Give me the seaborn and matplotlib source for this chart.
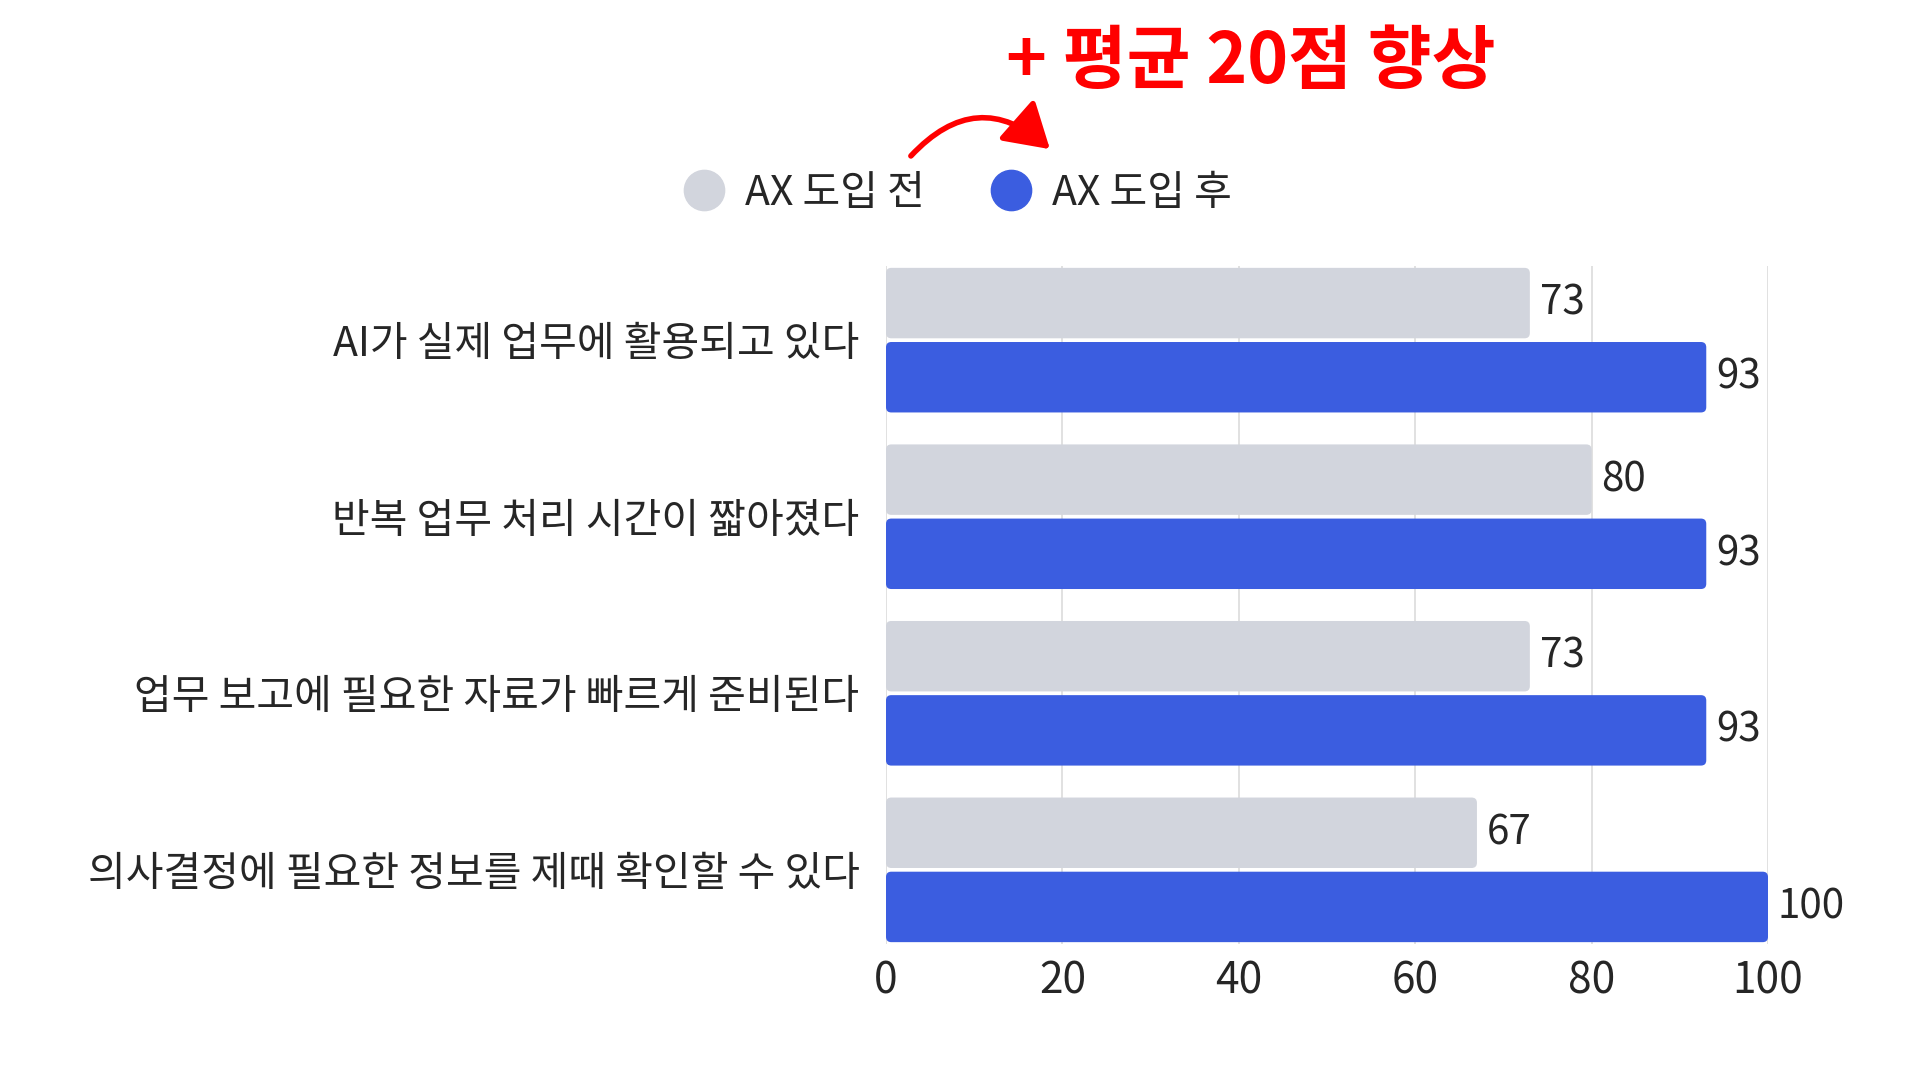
import numpy as np
import pandas as pd
import matplotlib.pyplot as plt
import seaborn as sns
from matplotlib.lines import Line2D
from matplotlib.patches import FancyBboxPatch, FancyArrowPatch

# survey items and scores (before / after AX)
statements = [
    "AI가 실제 업무에 활용되고 있다",
    "반복 업무 처리 시간이 짧아졌다",
    "업무 보고에 필요한 자료가 빠르게 준비된다",
    "의사결정에 필요한 정보를 제때 확인할 수 있다",
]
before = [73, 80, 73, 67]
after = [93, 93, 93, 100]
series = ["AX 도입 전", "AX 도입 후"]
colors = ["#D2D5DD", "#3B5DE0"]
x_ticks = [0, 20, 40, 60, 80, 100]
headline = "+ 평균 20점 향상"

df = pd.DataFrame({
    "문항": statements * 2,
    "점수": before + after,
    "구분": [series[0]] * len(before) + [series[1]] * len(after),
})

sns.set_theme(style="white")
plt.rcParams["font.family"] = ["Noto Sans CJK KR", "DejaVu Sans"]

W, H = 1920, 1080
fig = plt.figure(figsize=(19.2, 10.8), dpi=100)
ax = fig.add_axes([886 / W, 1 - 944 / H, (1768 - 886) / W, (944 - 266) / H])

sns.barplot(data=df, y="문항", x="점수", hue="구분", hue_order=series,
            palette=colors, orient="h", width=0.84, gap=0.05,
            saturation=1, legend=False, ax=ax)

ax.set_xlim(0, 100)
ax.set_ylim(3.42, -0.42)
ax.set_xticks(x_ticks)
ax.grid(axis="x", color="#DCDCDC", lw=1.2)
ax.grid(axis="y", visible=False)
ax.set_axisbelow(True)
for s in ax.spines.values():
    s.set_visible(False)
ax.tick_params(axis="x", labelsize=30.5, length=0, pad=11)
ax.tick_params(axis="y", labelsize=29.5, length=0, pad=19)
ax.set_xlabel("")
ax.set_ylabel("")

for c in ax.containers:
    ax.bar_label(c, padding=7, fontsize=29)

# swap plain rectangles for slightly rounded ones
for p in list(ax.patches):
    fb = FancyBboxPatch((p.get_x(), p.get_y()), p.get_width(), p.get_height(),
                        boxstyle="round,pad=0,rounding_size=0.6",
                        mutation_aspect=0.05, fc=p.get_facecolor(),
                        ec="none", zorder=p.get_zorder())
    p.remove()
    ax.add_patch(fb)

handles = [Line2D([], [], marker="o", ls="", markersize=29,
                  markerfacecolor=c, markeredgecolor=c) for c in colors]
fig.legend(handles, series, loc="center", bbox_to_anchor=(0.4987, 0.821),
           ncol=2, frameon=False, fontsize=29.5, handlelength=1.0,
           handletextpad=0.5, columnspacing=1.6)

fig.text(1251 / W, 1 - 63 / H, headline, color="#FF0000", fontsize=50,
         fontweight="black", ha="center", va="center")

arrow = FancyArrowPatch(posA=(909 / W, 1 - 158 / H), posB=(1052 / W, 1 - 151 / H),
                        transform=fig.transFigure,
                        connectionstyle="arc3,rad=-0.5",
                        arrowstyle="-|>,head_length=0.9,head_width=0.55",
                        mutation_scale=30, lw=4, color="#FF0000")
fig.patches.append(arrow)

fig.savefig("out.png", dpi=100)
